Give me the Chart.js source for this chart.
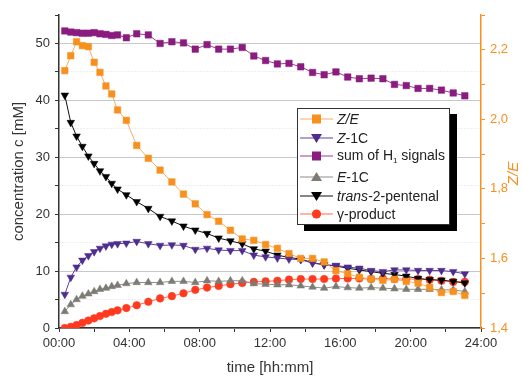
<!DOCTYPE html>
<html>
<head>
<meta charset="utf-8">
<script src="https://cdn.jsdelivr.net/npm/chart.js@4"></script>
<style>
  body { margin: 0; background: #fff; }
  #wrap { position: relative; width: 522px; height: 377px; }
  #legend {
    position: absolute; left: 297px; top: 108px; width: 153px; height: 117px;
    box-sizing: border-box; border: 1px solid #333; background: #fff;
    box-shadow: 7px 6px 0 #000;
    font: 14px "Liberation Sans", Arial, sans-serif; color: #222;
  }
  .row { position: absolute; left: 2px; height: 18px; display: flex; align-items: center; white-space: nowrap; }
  .row svg { margin-right: 4px; }
  .row sub { font-size: 8px; vertical-align: -3px; }
</style>
</head>
<body>
<div id="wrap">
  <canvas id="chart" width="522" height="377"></canvas>
  <div id="legend"></div>
</div>
<script>
// sampling times in hours
const times = [0.33, 0.67, 1, 1.33, 1.67, 2, 2.33, 2.67, 3, 3.33,
  3.83, 4.42, 5.08, 5.75, 6.42, 7.08,
  7.75, 8.42, 9.08, 9.75, 10.42, 11.08, 11.75, 12.42, 13.08, 13.75,
  14.42, 15.08, 15.75, 16.42, 17.08, 17.75, 18.42, 19.08, 19.75, 20.42,
  21.08, 21.75, 22.42, 23.08];

// Z/E ratio (right axis)
const zeRatio = [2.140, 2.183, 2.223, 2.212, 2.209, 2.164, 2.135, 2.096, 2.073, 2.027,
  1.997, 1.925, 1.888, 1.854, 1.820, 1.785,
  1.757, 1.726, 1.707, 1.681, 1.656, 1.652, 1.640, 1.629, 1.614, 1.600,
  1.600, 1.590, 1.565, 1.556, 1.546, 1.541, 1.537, 1.540, 1.534, 1.529,
  1.517, 1.502, 1.505, 1.494];

// concentrations in mM
const z1c = [5.9, 8.9, 10.7, 11.9, 12.7, 13.4, 14.0, 14.4, 14.7, 14.8,
  14.9, 15.2, 14.8, 14.5, 14.6, 14.5,
  13.8, 14.0, 13.7, 13.6, 13.6, 12.8, 12.5, 12.3, 12.1, 12.0,
  11.4, 11.1, 11.0, 10.7, 10.5, 10.1, 9.9, 10.2, 10.2, 10.1,
  10.1, 10.1, 9.9, 9.5];

const sumH1 = [52.2, 52.0, 51.9, 51.8, 51.8, 51.9, 51.7, 51.6, 51.4, 51.5,
  51.0, 51.7, 51.5, 50.0, 50.3, 50.1,
  49.0, 49.8, 49.0, 49.0, 49.3, 47.8, 47.0, 46.4, 46.5, 45.9,
  44.9, 44.5, 45.0, 44.1, 43.8, 43.9, 43.8, 42.8, 42.6, 42.1,
  42.1, 41.8, 41.3, 40.8];

const e1c = [2.9, 4.1, 5.0, 5.6, 6.0, 6.4, 6.8, 7.0, 7.3, 7.5,
  7.8, 8.0, 8.0, 8.0, 8.2, 8.2,
  8.0, 8.3, 8.2, 8.3, 8.3, 7.8, 7.7, 7.6, 7.6, 7.4,
  7.2, 7.0, 7.3, 7.1, 7.0, 7.1, 7.0, 6.9, 6.8, 6.8,
  6.8, 6.7, 6.7, 6.4];

const pentenal = [40.9, 36.1, 33.7, 31.9, 30.2, 28.9, 27.6, 26.6, 25.4, 24.4,
  23.4, 22.2, 21.0, 19.6, 18.8, 17.9,
  17.2, 16.6, 15.8, 15.3, 14.8, 13.9, 13.5, 12.8, 12.4, 12.1,
  11.5, 11.1, 10.9, 10.5, 10.2, 9.9, 9.6, 9.4, 9.1, 8.7,
  8.5, 8.4, 8.2, 7.9];

const gammaProduct = [0.0, 0.2, 0.5, 0.9, 1.3, 1.7, 2.1, 2.5, 2.8, 3.1,
  3.5, 4.0, 4.6, 5.2, 5.6, 6.1,
  6.7, 7.1, 7.4, 7.7, 7.9, 8.1, 8.2, 8.3, 8.5, 8.6,
  8.6, 8.6, 8.7, 8.7, 8.7, 8.6, 8.7, 8.6, 8.6, 8.6,
  8.5, 8.3, 8.1, 8.1];

const orange = "#F7901E";
const fontFamily = "'Liberation Sans', Arial, sans-serif";

const series = [
  { label: "<i>Z/E</i>", values: zeRatio, color: orange, line: "#F9AC62", shape: "rect", axis: "y1" },
  { label: "<i>Z</i>-1C", values: z1c, color: "#4E2D8E", line: "#5E429C", shape: "down", axis: "y" },
  { label: "sum of H<sub>1</sub> signals", values: sumH1, color: "#8B1C7F", line: "#9B3C90", shape: "rect", axis: "y" },
  { label: "<i>E</i>-1C", values: e1c, color: "#7D7B74", line: "#8F8D86", shape: "up", axis: "y" },
  { label: "<i>trans</i>-2-pentenal", values: pentenal, color: "#000000", line: "#111111", shape: "down", axis: "y" },
  { label: "γ-product", values: gammaProduct, color: "#FF3A1F", line: "#FF6A50", shape: "circle", axis: "y" },
];

const radius = { rect: 4.6, up: 4.4, down: 4.4, circle: 3.8 };

const datasets = series.map(s => ({
  data: s.values.map((v, i) => ({ x: times[i], y: v })),
  yAxisID: s.axis,
  borderColor: s.line,
  borderWidth: 1,
  backgroundColor: s.color,
  pointBackgroundColor: s.color,
  pointBorderColor: s.color,
  pointBorderWidth: 0.5,
  pointStyle: s.shape === "circle" ? "circle" : s.shape === "rect" ? "rect" : "triangle",
  pointRotation: s.shape === "down" ? 180 : 0,
  pointRadius: radius[s.shape],
  tension: 0,
}));

const pad2 = n => String(n).padStart(2, "0");

const rightTitle = {
  id: "rightTitle",
  afterDraw(c) {
    const ctx = c.ctx;
    ctx.save();
    ctx.translate(c.scales.y1.right - 8, (c.chartArea.top + c.chartArea.bottom) / 2 + 2);
    ctx.rotate(-Math.PI / 2);
    ctx.font = "italic 15px " + fontFamily;
    ctx.fillStyle = orange;
    ctx.textAlign = "center";
    ctx.textBaseline = "middle";
    ctx.fillText("Z/E", 0, 0);
    ctx.restore();
  }
};

const tickFont = { family: fontFamily, size: 13 };

new Chart(document.getElementById("chart").getContext("2d"), {
  type: "line",
  data: { datasets },
  plugins: [rightTitle],
  options: {
    responsive: false,
    animation: false,
    devicePixelRatio: 1,
    layout: { padding: { top: 15, right: 0, left: 0, bottom: 0 } },
    plugins: { legend: { display: false }, tooltip: { enabled: false } },
    scales: {
      x: {
        type: "linear", min: 0, max: 24,
        ticks: {
          stepSize: 2, autoSkip: false, maxRotation: 0, padding: 4,
          color: "#333", font: tickFont,
          callback: v => v % 4 === 0 ? pad2(v) + ":00" : ""
        },
        grid: { drawOnChartArea: false, tickColor: "#333", tickLength: 4 },
        border: { color: "#333", width: 1.5 },
        title: { display: true, text: "time [hh:mm]", color: "#333",
          font: { family: fontFamily, size: 15 }, padding: { top: 0, bottom: 0 } },
        afterFit: s => { s.height = 49; }
      },
      y: {
        position: "left", min: 0, max: 55,
        ticks: {
          stepSize: 5, padding: 5, color: "#333", font: tickFont,
          callback: v => v % 10 === 0 ? v : ""
        },
        grid: {
          color: c => c.tick && c.tick.value === 55 ? "rgba(0,0,0,0)" :
            c.tick && c.tick.value % 10 === 0 ? "#c8c8c8" : "#dedede",
          tickColor: "#333", tickLength: 4
        },
        border: { color: "#333", width: 1.5,
          dash: c => c.tick && c.tick.value % 10 !== 0 ? [1, 2] : [] },
        title: { display: true, text: "concentration c [mM]", color: "#333",
          font: { family: fontFamily, size: 15 }, padding: { top: 10, bottom: 0 } },
        afterFit: s => { s.width = 59; }
      },
      y1: {
        position: "right", min: 1.4, max: 2.3,
        ticks: {
          stepSize: 0.1, padding: 5, color: orange, font: tickFont,
          callback: v => {
            const t = Math.round(v * 10);
            return t % 2 === 0 ? (t / 10).toFixed(1).replace(".", ",") : "";
          }
        },
        grid: { drawOnChartArea: false, tickColor: orange, tickLength: 4 },
        border: { color: orange, width: 1.5 },
        afterFit: s => { s.width = 41; }
      }
    }
  }
});

// legend box with shadow, built from the same series styles
const rowTops = [1, 20, 38, 59, 78, 96];
const legend = document.getElementById("legend");
series.forEach((s, i) => {
  let marker;
  if (s.shape === "rect") marker = `<rect x="12" y="2.5" width="9" height="9" fill="${s.color}"/>`;
  else if (s.shape === "circle") marker = `<circle cx="16.5" cy="7" r="4.6" fill="${s.color}"/>`;
  else if (s.shape === "up") marker = `<polygon points="16.5,2 22,11 11,11" fill="${s.color}"/>`;
  else marker = `<polygon points="11,3 22,3 16.5,12" fill="${s.color}"/>`;
  const row = document.createElement("div");
  row.className = "row";
  row.style.top = rowTops[i] + "px";
  row.innerHTML = `<svg width="33" height="14"><line x1="0" y1="7" x2="33" y2="7" stroke="${s.line}" stroke-width="1.2"/>${marker}</svg><span>${s.label}</span>`;
  legend.appendChild(row);
});
</script>
</body>
</html>
